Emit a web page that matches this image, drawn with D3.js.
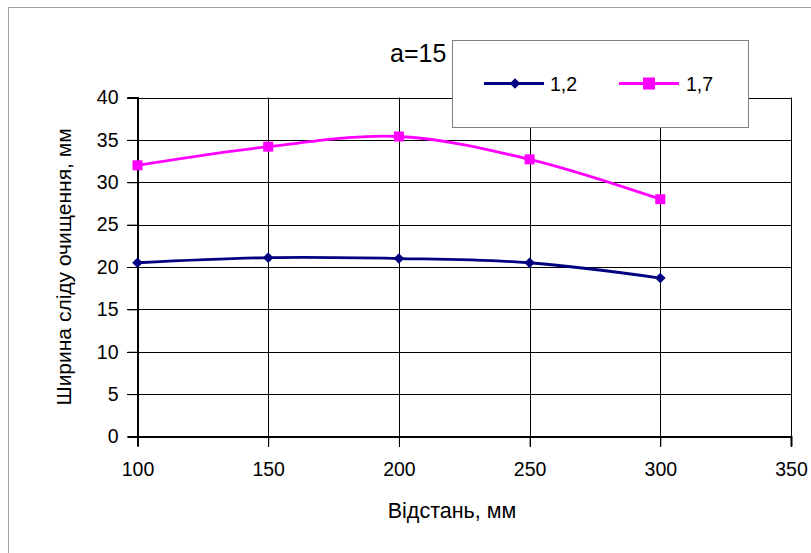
<!DOCTYPE html>
<html>
<head>
<meta charset="utf-8">
<script src="https://cdn.jsdelivr.net/npm/d3@7"></script>
<style>
body{margin:0;background:#fff;}
svg{display:block;font-family:Arial,"Liberation Sans",sans-serif;}
</style>
</head>
<body>
<svg id="canvas" width="811" height="553"></svg>
<script>
// data
let distances=[100,150,200,250,300];
let series12=[20.5,21.1,21.0,20.5,18.7];
let series17=[32.0,34.2,35.4,32.7,28.0];
let seriesNames=["1,2","1,7"];
let xTicks=[100,150,200,250,300,350];
let yTicks=[0,5,10,15,20,25,30,35,40];

let canvas=d3.select("#canvas");

// outer chart frame (right/bottom run off the page)
canvas.append("rect").attr("x",8.5).attr("y",7.5).attr("width",900).attr("height",700)
  .attr("fill","none").attr("stroke","#a0a0a0").attr("stroke-width",1);

let xScale=d3.scaleLinear().domain([100,350]).range([137.5,791]);
let yScale=d3.scaleLinear().domain([0,40]).range([436.5,97.5]);

// grid
canvas.append("g").selectAll("line").data(yTicks.slice(1)).enter().append("line")
  .attr("x1",127).attr("x2",791).attr("y1",d=>Math.round(yScale(d))+0.5).attr("y2",d=>Math.round(yScale(d))+0.5)
  .attr("stroke","#000").attr("stroke-width",1);
canvas.append("g").selectAll("line").data(xTicks.slice(1)).enter().append("line")
  .attr("x1",d=>Math.round(xScale(d))+0.5).attr("x2",d=>Math.round(xScale(d))+0.5)
  .attr("y1",97.5).attr("y2",447)
  .attr("stroke","#000").attr("stroke-width",1);

// axes
let yAxis=d3.axisLeft(yScale).tickValues(yTicks).tickSize(10).tickPadding(9);
let xAxis=d3.axisBottom(xScale).tickValues(xTicks).tickSize(10).tickPadding(16);
canvas.append("g").attr("transform","translate(137.5,0)").call(yAxis)
  .call(g=>g.select(".domain").attr("stroke-width",2))
  .call(g=>g.selectAll("text").style("font-size","19.5px").attr("fill","#000"));
canvas.append("g").attr("transform","translate(0,436.5)").call(xAxis)
  .call(g=>g.select(".domain").attr("stroke-width",2))
  .call(g=>g.selectAll("text").style("font-size","19.5px").attr("fill","#000"));
canvas.selectAll(".tick line").attr("stroke","#000");

// axis titles
canvas.append("text").text("Відстань, мм").attr("x",452).attr("y",518)
  .attr("text-anchor","middle").style("font-size","21.5px");
canvas.append("text").text("Ширина сліду очищення, мм")
  .attr("transform","translate(71,267) rotate(-90)")
  .attr("text-anchor","middle").style("font-size","21px");

// lines
let line=d3.line().x((d,i)=>xScale(distances[i])).y(d=>yScale(d)).curve(d3.curveCatmullRom.alpha(0.5));
canvas.append("path").datum(series17).attr("d",line).attr("fill","none").attr("stroke","#ff00ff").attr("stroke-width",2.8);
canvas.append("path").datum(series12).attr("d",line).attr("fill","none").attr("stroke","#000080").attr("stroke-width",2.8);

let diamond=d3.symbol().type(d3.symbolDiamond2).size(72);
canvas.selectAll(".m17").data(series17).enter().append("rect").attr("class","m17")
  .attr("x",(d,i)=>xScale(distances[i])-5).attr("y",d=>yScale(d)-5).attr("width",10).attr("height",10)
  .attr("fill","#ff00ff");
canvas.selectAll(".m12").data(series12).enter().append("path").attr("class","m12")
  .attr("d",diamond).attr("transform",(d,i)=>`translate(${xScale(distances[i])},${yScale(d)})`)
  .attr("fill","#000080");

// title (partly covered by legend)
canvas.append("text").text("a=15").attr("x",390).attr("y",62).style("font-size","25px");

// legend
let lg=canvas.append("g");
lg.append("rect").attr("x",452.5).attr("y",40.5).attr("width",296).attr("height",87)
  .attr("fill","#fff").attr("stroke","#808080").attr("stroke-width",1);
lg.append("line").attr("x1",484).attr("x2",544).attr("y1",83.5).attr("y2",83.5).attr("stroke","#000080").attr("stroke-width",2.8);
lg.append("path").attr("d",diamond).attr("transform","translate(515,83.5)").attr("fill","#000080");
lg.append("text").text(seriesNames[0]).attr("x",550).attr("y",91).style("font-size","19.5px");
lg.append("line").attr("x1",619).attr("x2",679).attr("y1",83.5).attr("y2",83.5).attr("stroke","#ff00ff").attr("stroke-width",2.8);
lg.append("rect").attr("x",643).attr("y",77.5).attr("width",12).attr("height",12).attr("fill","#ff00ff");
lg.append("text").text(seriesNames[1]).attr("x",686).attr("y",91).style("font-size","19.5px");
</script>
</body>
</html>
